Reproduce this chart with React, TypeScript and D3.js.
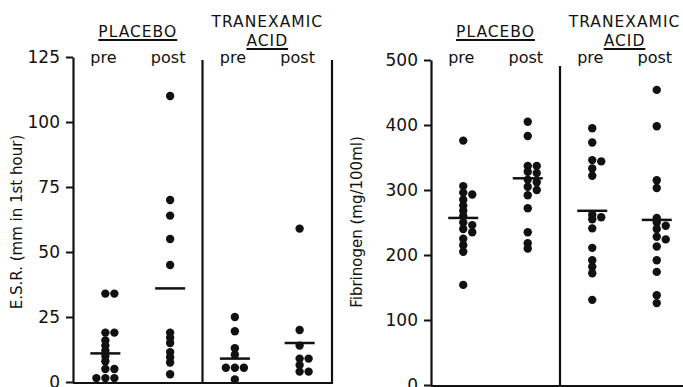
import React, { useEffect, useRef } from 'react';
import * as d3 from 'd3';

// columns, left to right
const columns = ['placebo-pre', 'placebo-post', 'tranexamic-pre', 'tranexamic-post'];
const columnLabels = ['pre', 'post', 'pre', 'post'];

// E.S.R. (mm in 1st hour)
const esrTicks = [0, 25, 50, 75, 100, 125];
const esrPlaceboPre = [34, 34, 19, 19, 16, 14, 12, 10, 8, 5, 5, 1.5, 1.5, 1.5];
const esrPlaceboPost = [110, 70, 64, 55, 45, 19, 17, 15, 11.5, 9.5, 7.5, 3];
const esrTranexamicPre = [25, 19.5, 13, 10.5, 5.5, 5.5, 5.5, 1];
const esrTranexamicPost = [59, 20, 14, 9, 9, 6.5, 4, 4];
const esrMeans = [11, 36, 9, 15];

// Fibrinogen (mg/100ml)
const fibTicks = [0, 100, 200, 300, 400, 500];
const fibPlaceboPre = [376, 306, 296, 293, 285, 276, 268, 260, 250, 246, 240, 235, 225, 215, 205, 154];
const fibPlaceboPost = [405, 383, 337, 337, 328, 326, 316, 312, 305, 300, 292, 272, 235, 218, 210];
const fibTranexamicPre = [395, 373, 346, 344, 333, 322, 262, 258, 255, 241, 211, 192, 182, 172, 131];
const fibTranexamicPost = [454, 398, 315, 303, 257, 250, 245, 240, 228, 224, 213, 192, 174, 138, 126];
const fibMeans = [257, 318, 268, 254];

const FONT = '"DejaVu Sans", sans-serif';
const INK = '#111';

// push overlapping points sideways
function dodge(values: number[], y: (v: number) => number) {
  const placed: { py: number; dx: number }[] = [];
  [...values].sort((a, b) => b - a).forEach(v => {
    const py = y(v);
    for (const off of [0, 9, -9, 18, -18]) {
      if (!placed.some(p => Math.abs(p.dx - off) < 6 && Math.abs(p.py - py) < 3.5)) {
        placed.push({ py, dx: off });
        break;
      }
    }
  });
  return placed;
}

const App = () => {
  const svgRef = useRef<SVGSVGElement>(null);

  useEffect(() => {
    const svg = d3.select(svgRef.current);
    svg.selectAll('*').remove();

    const panels = [
      {
        title: 'E.S.R. (mm in 1st hour)', titleX: 17, titleY: 222,
        ticks: esrTicks, max: 125, xr: [73, 332], yr: [382, 57], dividerTop: 60,
        series: [esrPlaceboPre, esrPlaceboPost, esrTranexamicPre, esrTranexamicPost], means: esrMeans
      },
      {
        title: 'Fibrinogen (mg/100ml)', titleX: 357, titleY: 222,
        ticks: fibTicks, max: 500, xr: [431, 689], yr: [385, 60], dividerTop: 66,
        series: [fibPlaceboPre, fibPlaceboPost, fibTranexamicPre, fibTranexamicPost], means: fibMeans
      }
    ];

    panels.forEach(p => {
      const g = svg.append('g');
      const x = d3.scaleBand().domain(columns).range(p.xr as [number, number]);
      const y = d3.scaleLinear().domain([0, p.max]).range(p.yr as [number, number]);
      const cx = (c: string) => (x(c) as number) + x.bandwidth() / 2;

      // y axis
      const axis = g.append('g')
        .attr('transform', `translate(${p.xr[0]},0)`)
        .call(d3.axisLeft(y).tickValues(p.ticks).tickSizeInner(7).tickSizeOuter(0).tickPadding(6).tickFormat(d3.format('d')));
      axis.select('.domain').attr('stroke', INK).attr('stroke-width', 2.2);
      axis.selectAll('.tick line').attr('stroke', INK).attr('stroke-width', 2);
      axis.selectAll('.tick text')
        .attr('fill', INK)
        .style('font-family', FONT)
        .style('font-size', '17px');

      // bottom, divider and right border
      const bottom = p.yr[0] + 1;
      g.append('line').attr('x1', p.xr[0]).attr('x2', p.xr[1]).attr('y1', bottom).attr('y2', bottom)
        .attr('stroke', INK).attr('stroke-width', 2.2);
      const mid = (p.xr[0] + p.xr[1]) / 2;
      [mid, p.xr[1]].forEach(xv => {
        g.append('line').attr('x1', xv).attr('x2', xv).attr('y1', p.dividerTop).attr('y2', bottom + 1)
          .attr('stroke', INK).attr('stroke-width', 2.2);
      });

      // axis title
      g.append('text')
        .attr('transform', `translate(${p.titleX},${p.titleY}) rotate(-90)`)
        .attr('text-anchor', 'middle')
        .attr('dominant-baseline', 'middle')
        .style('font-family', FONT)
        .style('font-size', '15px')
        .attr('fill', INK)
        .text(p.title);

      // group headers
      const headers = [
        { lines: ['PLACEBO'], baselines: [37], center: (p.xr[0] + mid) / 2 },
        { lines: ['TRANEXAMIC', 'ACID'], baselines: [27, 46], center: (mid + p.xr[1]) / 2 }
      ];
      headers.forEach(h => {
        h.lines.forEach((line, i) => {
          const t = g.append('text')
            .attr('x', h.center).attr('y', h.baselines[i])
            .attr('text-anchor', 'middle')
            .style('font-family', FONT)
            .style('font-size', '15.5px')
            .style('letter-spacing', '1px')
            .attr('fill', INK)
            .text(line);
          if (i === h.lines.length - 1) {
            const w = (t.node() as SVGTextElement).getComputedTextLength();
            g.append('line')
              .attr('x1', h.center - w / 2).attr('x2', h.center + w / 2)
              .attr('y1', h.baselines[i] + 3).attr('y2', h.baselines[i] + 3)
              .attr('stroke', INK).attr('stroke-width', 1.8);
          }
        });
      });

      // pre / post labels
      g.selectAll('text.col')
        .data(columns)
        .enter().append('text')
        .attr('class', 'col')
        .attr('x', d => cx(d) - 2)
        .attr('y', 63)
        .attr('text-anchor', 'middle')
        .style('font-family', FONT)
        .style('font-size', '16px')
        .attr('fill', INK)
        .text((d, i) => columnLabels[i]);

      // dots
      p.series.forEach((vals, i) => {
        const c = columns[i];
        g.selectAll(`circle.s${i}`)
          .data(dodge(vals, y))
          .enter().append('circle')
          .attr('cx', d => cx(c) + d.dx)
          .attr('cy', d => d.py)
          .attr('r', 4.2)
          .attr('fill', INK);
      });

      // mean bars
      g.selectAll('line.mean')
        .data(p.means)
        .enter().append('line')
        .attr('class', 'mean')
        .attr('x1', (d, i) => cx(columns[i]) - 15)
        .attr('x2', (d, i) => cx(columns[i]) + 15)
        .attr('y1', d => y(d))
        .attr('y2', d => y(d))
        .attr('stroke', INK)
        .attr('stroke-width', 2.5);
    });
  }, []);

  return (
    <div style={{ position: 'fixed', left: 0, top: 0, background: '#fff' }}>
      <svg ref={svgRef} width={683} height={387} style={{ display: 'block', background: '#fff' }} />
    </div>
  );
};

export default App;
